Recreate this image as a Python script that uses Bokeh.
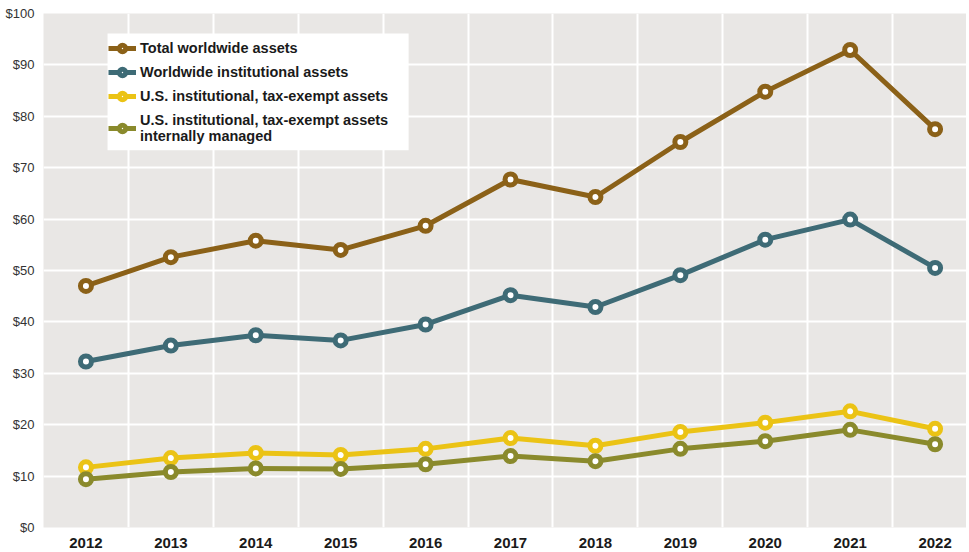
from bokeh.plotting import figure
from bokeh.models import FixedTicker, PrintfTickFormatter, Legend, LegendItem, Range1d, BoxAnnotation
from bokeh.embed import file_html
from bokeh.resources import INLINE

years = [2012, 2013, 2014, 2015, 2016, 2017, 2018, 2019, 2020, 2021, 2022]
total_worldwide = [47.0, 52.6, 55.8, 54.0, 58.7, 67.7, 64.3, 75.0, 84.8, 92.9, 77.5]
worldwide_institutional = [32.3, 35.4, 37.4, 36.4, 39.5, 45.2, 42.9, 49.1, 56.0, 59.9, 50.5]
us_tax_exempt = [11.7, 13.5, 14.5, 14.1, 15.3, 17.4, 15.9, 18.6, 20.4, 22.6, 19.2]
us_internally_managed = [9.4, 10.8, 11.5, 11.4, 12.3, 13.9, 12.9, 15.3, 16.8, 19.0, 16.2]

series_labels = [
    "Total worldwide assets",
    "Worldwide institutional assets",
    "U.S. institutional, tax-exempt assets",
    "U.S. institutional, tax-exempt assets\ninternally managed",
]
series_values = [total_worldwide, worldwide_institutional, us_tax_exempt, us_internally_managed]
series_colors = ["#8B6118", "#3E6B76", "#EBC315", "#8A8A2C"]

y_ticks = list(range(0, 101, 10))
x_grid = [y + 0.5 for y in years[:-1]]

p = figure(
    width=966, height=550,
    output_backend="svg", toolbar_location=None,
    x_range=Range1d(2011.5, 2022.37), y_range=Range1d(0, 100),
    min_border_left=43, min_border_right=0, min_border_top=13, min_border_bottom=22,
)
p.background_fill_color = "#E9E7E5"
p.border_fill_color = "white"
p.outline_line_color = None

p.xgrid.ticker = FixedTicker(ticks=x_grid)
p.ygrid.ticker = FixedTicker(ticks=y_ticks)
for g in (p.xgrid, p.ygrid):
    g.grid_line_color = "white"
    g.grid_line_width = 2

p.xaxis.ticker = FixedTicker(ticks=years)
p.yaxis.ticker = FixedTicker(ticks=y_ticks)
p.yaxis.formatter = PrintfTickFormatter(format="$%d")
for ax in (p.xaxis, p.yaxis):
    ax.axis_line_color = None
    ax.major_tick_line_color = None
    ax.minor_tick_line_color = None
p.xaxis.major_label_text_font = "Liberation Sans"
p.xaxis.major_label_text_font_style = "bold"
p.xaxis.major_label_text_font_size = "15px"
p.xaxis.major_label_text_color = "#1a1a1a"
p.xaxis.major_label_standoff = 4
p.yaxis.major_label_text_font = "Liberation Sans"
p.yaxis.major_label_text_font_size = "13px"
p.yaxis.major_label_text_color = "#333333"
p.yaxis.major_label_standoff = 3

items = []
for label, vals, col in zip(series_labels, series_values, series_colors):
    ln = p.line(years, vals, line_color=col, line_width=5)
    sc = p.scatter(years, vals, marker="circle", size=11, fill_color="white",
                   line_color=col, line_width=5)
    items.append(LegendItem(label=label, renderers=[ln, sc]))

# white panel behind the legend
legend_bg = BoxAnnotation(left=2012.254, right=2015.80, top=96.1, bottom=73.4,
                          fill_color="white", fill_alpha=1, line_color=None)
p.add_layout(legend_bg)

legend = Legend(items=items, location=(65, 383))
legend.background_fill_alpha = 0
legend.border_line_color = None
legend.label_text_font = "Liberation Sans"
legend.label_text_font_style = "bold"
legend.label_text_font_size = "14.5px"
legend.label_text_color = "#1a1a1a"
legend.label_text_line_height = 1.0
legend.glyph_width = 28
legend.glyph_height = 16
legend.label_standoff = 4
legend.spacing = 8
legend.padding = 9
legend.margin = 0
p.add_layout(legend, "center")

open("out.html", "w").write(file_html(p, INLINE))
